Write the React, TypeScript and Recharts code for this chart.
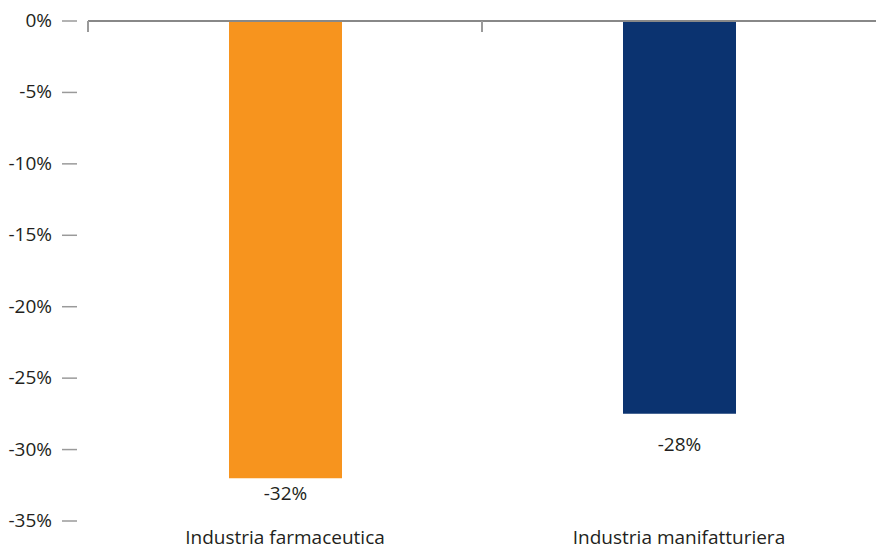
import React from "react";
import { BarChart, Bar, XAxis, YAxis, Cell, LabelList } from "recharts";

const categories = ["Industria farmaceutica", "Industria manifatturiera"];
const values = [-32.0, -27.5];
const valueLabels = ["-32%", "-28%"];
const yTicks = [0, -5, -10, -15, -20, -25, -30, -35];
const barColors = ["#F7941E", "#0B3370"];

const data = categories.map((c, i) => ({ name: c, value: values[i], label: valueLabels[i] }));

const FONT = "'Open Sans', sans-serif";
const TEXT = "#231F20";
const FS = 19;
const LABEL_GAPS = [6, 21];
const TOP_TICKS = [0, 0.5];

const YTick = (props: any) => {
  const { x, y, payload } = props;
  return (
    <g>
      <line x1={x - 26} x2={x - 11} y1={y} y2={y} stroke="#9A9A9A" strokeWidth={1.5} />
      <text x={x - 36} y={y} dy={-1} textAnchor="end" dominantBaseline="central" fontSize={FS} fill={TEXT} fontFamily={FONT}>
        {`${payload.value}%`}
      </text>
    </g>
  );
};

const TopTick = (props: any) => {
  const { x, y } = props;
  return <line x1={x} x2={x} y1={y} y2={y + 11} stroke="#9A9A9A" strokeWidth={2} />;
};

const ValueLabel = (props: any) => {
  const { x, y, width, height, index } = props;
  const bottom = Math.max(y, y + height);
  const gap = LABEL_GAPS[index] ?? 8;
  return (
    <text x={x + width / 2} y={bottom + gap} textAnchor="middle" dominantBaseline="hanging" fontSize={FS} fill={TEXT} fontFamily={FONT}>
      {data[index].label}
    </text>
  );
};

export default function App() {
  return (
    <div style={{ position: "absolute", left: 0, top: 0, width: 876, height: 550, background: "#fff" }}>
      <BarChart width={876} height={550} data={data} margin={{ top: 21, right: 0, left: 0, bottom: 0 }}>
        <XAxis
          dataKey="name"
          height={29}
          axisLine={false}
          tickLine={false}
          tickSize={0}
          tickMargin={10}
          tick={{ fontSize: FS, fill: TEXT, fontFamily: FONT }}
        />
        <XAxis
          xAxisId="top"
          type="number"
          orientation="top"
          domain={[0, 1]}
          allowDataOverflow
          ticks={TOP_TICKS}
          interval={0}
          height={1}
          mirror
          tick={<TopTick />}
          tickLine={false}
          tickSize={0}
          tickMargin={0}
          axisLine={{ stroke: "#888888", strokeWidth: 2 }}
        />
        <YAxis
          type="number"
          domain={[-35, 0]}
          ticks={yTicks}
          width={88}
          axisLine={false}
          tickLine={false}
          tickSize={0}
          tickMargin={0}
          tick={<YTick />}
          interval={0}
        />
        <Bar dataKey="value" barSize={113} isAnimationActive={false}>
          {data.map((d, i) => (
            <Cell key={d.name} fill={barColors[i]} />
          ))}
          <LabelList dataKey="label" content={<ValueLabel />} />
        </Bar>
      </BarChart>
    </div>
  );
}
